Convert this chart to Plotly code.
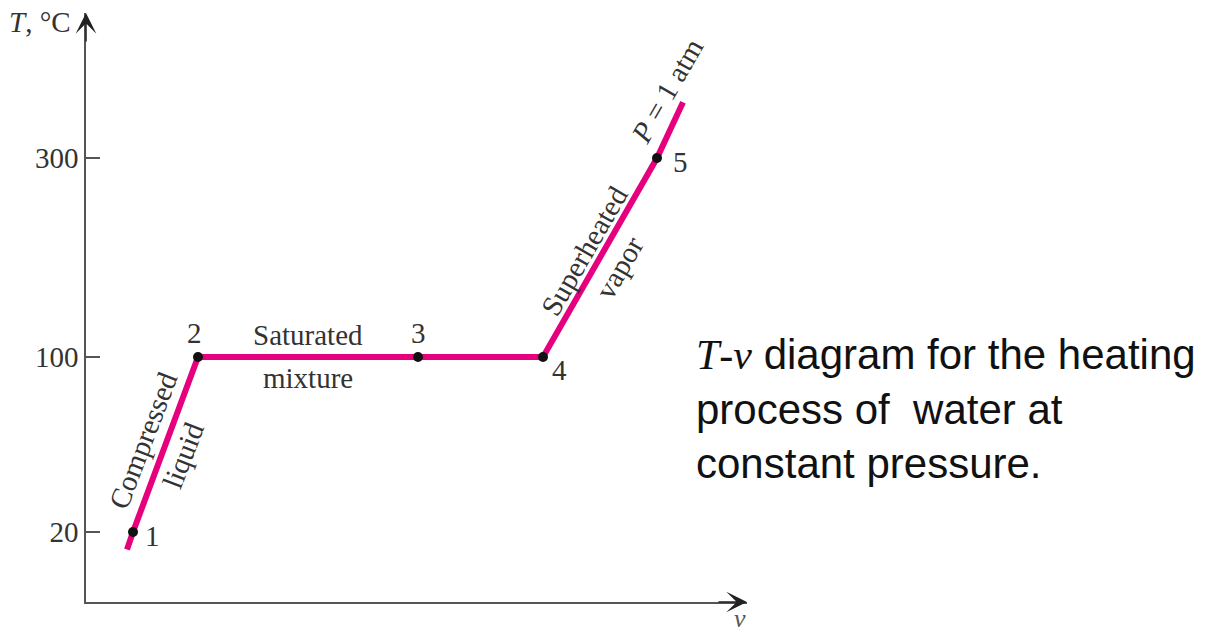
import numpy as np
import plotly.graph_objects as go

# ---------------- data ----------------
state_labels = ["1", "2", "3", "4", "5"]
v_states = [0.47, 1.12, 3.32, 4.57, 5.71]        # specific volume, arbitrary units
T_states = [20, 100, 100, 100, 300]              # temperature, °C
v_line = [0.41, 0.47, 1.12, 3.32, 4.57, 5.71, 5.97]
T_line = [12, 20, 100, 100, 100, 300, 356]
T_ticks = [20, 100, 300]
tick_labels = ["20", "100", "300"]

# ---------------- scale (the drawing is not to scale in T) ----------------
TICK_POS = [70.0, 245.0, 444.0]   # drawing position of each T tick
Y_TOP = 589.0
X_TOP = 6.61


def t_scale(T):
    T = np.asarray(T, float)
    t = np.array(T_ticks, float)
    p = np.array(TICK_POS, float)
    out = np.interp(T, t, p)
    lo = T < t[0]
    hi = T > t[-1]
    out[lo] = p[0] + (T[lo] - t[0]) * (p[1] - p[0]) / (t[1] - t[0])
    out[hi] = p[-1] + (T[hi] - t[-1]) * (p[-1] - p[-2]) / (t[-1] - t[-2])
    return out


W, H = 1206, 635
ML, MT = 86, 13
MB = H - 602
MR = W - 747
PW, PH = W - ML - MR, H - MT - MB


def px(x):   # page pixel -> paper x
    return (x - ML) / PW


def py(y):   # page pixel -> paper y
    return (H - MB - y) / PH


SERIF = "Liberation Serif"
FS = 29
TXT = "#333333"
AX = "#555555"
MAGENTA = "#E6007E"

fig = go.Figure()
fig.add_trace(go.Scatter(x=v_line, y=t_scale(T_line), mode="lines",
                         line=dict(color=MAGENTA, width=6), hoverinfo="skip",
                         showlegend=False))
fig.add_trace(go.Scatter(x=v_states, y=t_scale(T_states), mode="markers",
                         marker=dict(color="#111111", size=10), showlegend=False,
                         text=state_labels))

ys = t_scale(T_states)
ann = []
# state numbers
shifts = [(19, -4), (-4, 24), (0, 24), (16, -13), (23, -4)]
for lab, x, y, (dx, dy) in zip(state_labels, v_states, ys, shifts):
    ann.append(dict(x=x, y=y, xref="x", yref="y", text=lab, showarrow=False,
                    xanchor="center", yanchor="middle",
                    xshift=dx, yshift=dy, font=dict(family=SERIF, size=FS, color=TXT)))

# region labels
mid12 = ((v_states[0] + v_states[1]) / 2, (ys[0] + ys[1]) / 2)
mid23 = ((v_states[1] + v_states[2]) / 2, (ys[1] + ys[2]) / 2)
mid45 = ((v_states[3] + v_states[4]) / 2, (ys[3] + ys[4]) / 2)
endp = (v_line[-1], t_scale([T_line[-1]])[0])
region = [
    ("Compressed", mid12, -23, 4, -69),
    ("liquid", mid12, 17, -11, -69),
    ("Saturated", mid23, 0, 22, 0),
    ("mixture", mid23, 0, -21, 0),
    ("Superheated", mid45, -16, 7, -60),
    ("vapor", mid45, 19, -10, -60),
    ("<i>P</i> = 1 atm", endp, -16, 11, -60),
]
for txt, (x, y), dx, dy, ang in region:
    ann.append(dict(x=x, y=y, xref="x", yref="y", text=txt, showarrow=False,
                    xanchor="center", yanchor="middle",
                    xshift=dx, yshift=dy, textangle=ang,
                    font=dict(family=SERIF, size=FS, color=TXT)))

# axis arrows
ann.append(dict(x=0, y=Y_TOP, xref="x", yref="y", ax=0, ay=30, text="",
                showarrow=True, arrowhead=3, arrowsize=2.3, arrowwidth=1.5,
                arrowcolor="#222222"))
ann.append(dict(x=X_TOP, y=0, xref="x", yref="y", ax=-30, ay=0, text="",
                showarrow=True, arrowhead=3, arrowsize=2.3, arrowwidth=1.5,
                arrowcolor="#222222"))

# axis titles
ann.append(dict(x=px(40), y=py(22), xref="paper", yref="paper", text="<i>T</i>, °C",
                xanchor="center", yanchor="middle",
                showarrow=False, font=dict(family=SERIF, size=FS, color=TXT)))
ann.append(dict(x=px(740), y=py(634), xref="paper", yref="paper", text="<i>v</i>",
                xanchor="center", yanchor="bottom", borderpad=0,
                showarrow=False, font=dict(family=SERIF, size=26, color=AX)))

# caption
ann.append(dict(x=px(694), y=py(409), xref="paper", yref="paper", xanchor="left",
                yanchor="middle", align="left", showarrow=False,
                text="<span style='font-family:Liberation Serif'><i>T</i>-<i>v</i></span>"
                     " diagram for the heating<br>process of  water at<br>constant pressure.",
                font=dict(family="Liberation Sans", size=42, color="#111111")))

fig.update_layout(
    width=W, height=H, margin=dict(l=ML, r=MR, t=MT, b=MB, autoexpand=False),
    paper_bgcolor="white", plot_bgcolor="white",
    annotations=ann,
    xaxis=dict(range=[0, X_TOP], showline=True, linecolor=AX, linewidth=1.5,
               showticklabels=False, ticks="", showgrid=False, zeroline=False),
    yaxis=dict(range=[0, Y_TOP], showline=True, linecolor=AX, linewidth=1.5,
               tickvals=t_scale(T_ticks), ticktext=tick_labels, ticks="inside",
               ticklen=14, tickwidth=1.5, tickcolor=AX, showgrid=False, zeroline=False,
               tickfont=dict(family=SERIF, size=FS, color=TXT)),
)

fig.write_html("out.html", config={"displayModeBar": False},
               post_script="document.body.style.margin='0';"
                           "document.body.style.overflow='hidden';")
